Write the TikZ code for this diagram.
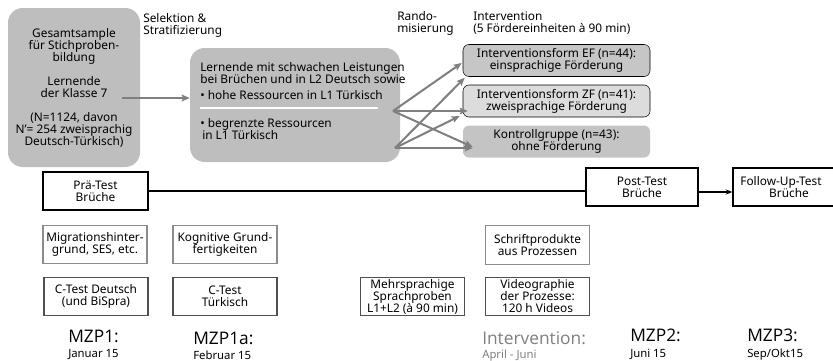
\documentclass[tikz,border=0pt]{standalone}
\usepackage{fontspec}
\setmainfont{Noto Sans}
\newfontfamily\lightfont{Open Sans}
\usetikzlibrary{arrows.meta, calc, positioning}
\definecolor{phasegray}{HTML}{BEBEBE}
\definecolor{efgray}{HTML}{C6C6C6}
\definecolor{zfgray}{HTML}{DCDCDC}
\definecolor{kggray}{HTML}{C4C4C4}
\definecolor{arrowgray}{HTML}{7F7F7F}
\definecolor{framegray}{HTML}{8C8C8C}
\definecolor{darkframe}{HTML}{505050}
\definecolor{labelgray}{HTML}{7F7F7F}
\tikzset{
  txt/.style={font=\fontsize{8.9}{9}\selectfont, align=center, inner sep=0pt},
  phase/.style={txt, rounded corners=11pt, fill=phasegray},
  group/.style={txt, rounded corners=4.5pt, minimum width=140.25pt, minimum height=24pt},
  testbox/.style={txt, draw=black, line width=1.1pt, minimum height=28.5pt},
  infobox/.style={txt, draw=framegray, line width=0.9pt, minimum width=78pt, minimum height=29pt},
  measbox/.style={txt, draw=darkframe, line width=0.9pt, minimum width=78pt, minimum height=29pt},
  randarrow/.style={-{Stealth[length=6pt, width=5pt, inset=1pt]}, line width=1.5pt, color=arrowgray},
  mzp/.style={font=\lightfont\fontsize{13}{15}\selectfont, inner sep=0pt, anchor=base west},
  date/.style={font=\fontsize{8.5}{10}\selectfont, inner sep=0pt, anchor=base west}
}

\begin{document}
\begin{tikzpicture}[x=0.75pt, y=-0.75pt]
\useasboundingbox (0,0) rectangle (833,361);

% sample and selection
\node[phase, minimum width=99pt, minimum height=119.25pt] (sample) at (74,87.5)
  {Gesamtsample\\für Stichproben-\\bildung\\[9pt]Lernende\\der Klasse 7\\[9pt](N=1124, davon\\N’= 254 zweisprachig\\Deutsch-Türkisch)};
\node[txt, align=left, anchor=north west] (selectlabel) at (143,13) {Selektion \&\\Stratifizierung};
\node[phase, minimum width=157.5pt, minimum height=85.5pt] (select) at (295,105) {};
\node[txt, align=left, anchor=north west] (selecttext) at (200,62.5)
  {Lernende mit schwachen Leistungen\\bei Brüchen und in L2 Deutsch sowie\\[3pt]• hohe Ressourcen in L1 Türkisch\\[12pt]• begrenzte Ressourcen\\\hspace*{1.5pt}in L1 Türkisch};
\draw[white, line width=2pt] (200,108) -- (378,108);
\draw[randarrow] ($(sample.east)+(-18,10.5)$) -- ($(select.west)+(0,-7)$);

% randomisation
\node[txt, align=left, anchor=north west] (randlabel) at (397,11) {Rando-\\misierung};
\node[txt, align=left, anchor=north west] (intlabel) at (473,11) {Intervention\\(5 Fördereinheiten à 90 min)};
\node[group, fill=efgray, draw=black] (ef) at (556.5,60.5) {Interventionsform EF (n=44):\\einsprachige Förderung};
\node[group, fill=zfgray, draw=black] (zf) at (556.5,101) {Interventionsform ZF (n=41):\\zweisprachige Förderung};
\node[group, fill=kggray] (kg) at (556.5,141.5) {Kontrollgruppe (n=43):\\ohne Förderung};

\coordinate (high) at (393,111);
\coordinate (low) at (395,148);
\draw[randarrow] (high) -- ($(ef.west)+(-1,2.5)$);
\draw[randarrow] (high) -- ($(zf.west)+(5,10)$);
\draw[randarrow] (high) -- ($(kg.west)+(10,5.5)$);
\draw[randarrow] (low) -- ($(ef.south west)+(2,1)$);
\draw[randarrow] (low) -- ($(zf.west)+(-3,15)$);
\draw[randarrow] (low) -- ($(kg.west)+(10,6.5)$);

% tests
\node[testbox, minimum width=78.75pt] (pre) at (95.5,191) {Prä-Test\\Brüche};
\node[testbox, minimum width=84pt] (post) at (642,187) {Post-Test\\Brüche};
\node[testbox, minimum width=84pt] (follow) at (789,187) {\hspace*{-12pt}Follow-Up-Test\\Brüche};
\draw[line width=0.9pt] (pre.east) -- (pre.east -| post.west);
\draw[-{Stealth[length=5pt, width=4pt]}, line width=0.9pt] ($(post.east)+(0,5)$) -- ($(follow.west)+(0,5)$);

% further measures
\node[infobox] (migration) at (95,244.5) {Migrationshinter-\\grund, SES, etc.};
\node[infobox] (cognitive) at (225,244.5) {Kognitive Grund-\\fertigkeiten};
\node[infobox] (writing) at (537.5,245) {Schriftprodukte\\aus Prozessen};
\node[measbox] (ctestde) at (96,296.5) {C-Test Deutsch\\(und BiSpra)};
\node[measbox] (ctesttr) at (225,296.5) {C-Test\\Türkisch};
\node[measbox] (speech) at (412.5,296.5) {Mehrsprachige\\Sprachproben\\L1+L2 (à 90 min)};
\node[measbox] (video) at (537.5,296.5) {Videographie\\der Prozesse:\\120 h Videos};

% time points
\node[mzp] (mzp1) at (68,342) {MZP1:};
\node[date] (date1) at (68,357) {Januar 15};
\node[mzp] (mzp1a) at (193,344) {MZP1a:};
\node[date] (date1a) at (193,359) {Februar 15};
\node[mzp, text=labelgray] (mzpint) at (482,344) {Intervention:};
\node[date, text=labelgray] (dateint) at (482,358.5) {April - Juni};
\node[mzp] (mzp2) at (630,341) {MZP2:};
\node[date] (date2) at (630,357) {Juni 15};
\node[mzp] (mzp3) at (747,341) {MZP3:};
\node[date] (date3) at (747,357) {Sep/Okt15};

\end{tikzpicture}
\end{document}
